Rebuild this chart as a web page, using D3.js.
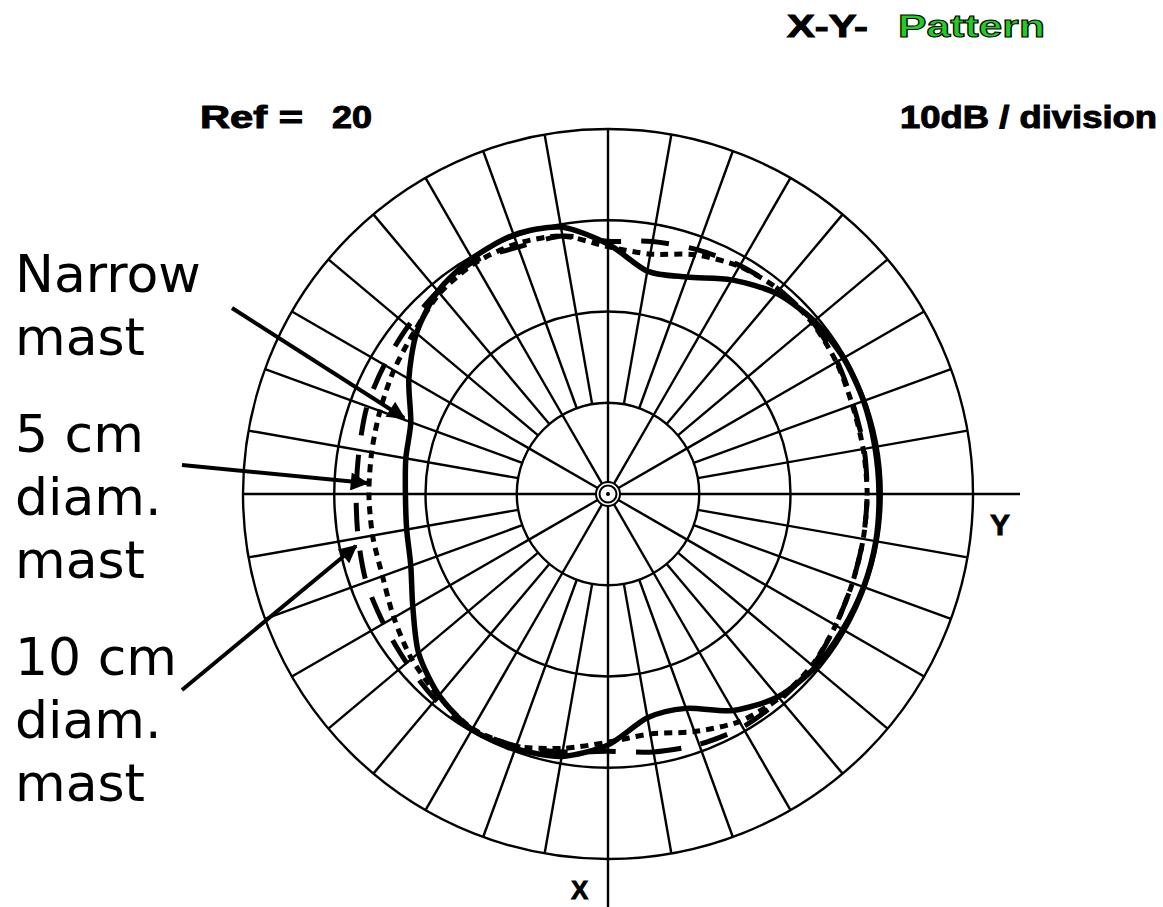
<!DOCTYPE html>
<html>
<head>
<meta charset="utf-8">
<script src="https://cdnjs.cloudflare.com/ajax/libs/d3/7.8.5/d3.min.js"></script>
<style>
  body { margin: 0; background: #ffffff; }
  .chart svg { display: block; }
</style>
</head>
<body>
<div class="chart"></div>
<script>
// azimuth in degrees, measured from the X axis (down) towards the Y axis (right)
var angles = [0, 10, 20, 30, 40, 50, 60, 70, 80, 90, 100, 110, 120, 130, 140, 150, 160, 170,
  180, 190, 200, 210, 220, 230, 240, 250, 260, 270, 280, 290, 300, 310, 320, 330, 340, 350];

// pattern levels in dB for each angle
var narrowMast = [7.5, 4.9, 5.0, 7.4, 9.0, 9.6, 9.7, 9.8, 9.8, 9.7, 9.7, 9.8, 9.8, 9.5, 8.7, 7.1, 5.3, 4.8,
  7.4, 9.7, 10.2, 9.8, 9.0, 7.4, 5.2, 3.0, 2.5, 2.2, 2.4, 3.0, 4.7, 7.1, 8.8, 9.8, 9.7, 9.2];
var mast5cm = [7.2, 6.7, 7.7, 8.8, 9.2, 9.2, 8.8, 8.5, 8.4, 8.4, 8.4, 8.5, 8.9, 9.2, 9.2, 8.8, 7.9, 6.7,
  7.1, 8.7, 9.2, 9.2, 8.7, 7.7, 7.1, 6.6, 6.3, 6.2, 6.2, 6.3, 7.1, 8.1, 8.9, 9.7, 9.4, 8.3];
var mast10cm = [8.2, 8.7, 9.2, 9.5, 9.4, 9.3, 8.8, 8.5, 8.4, 8.4, 8.5, 8.6, 9.0, 9.3, 9.2, 8.9, 8.5, 8.1,
  7.7, 8.7, 8.8, 9.4, 9.0, 8.6, 8.3, 8.1, 7.7, 7.6, 7.8, 8.2, 8.4, 8.8, 9.4, 9.8, 9.4, 8.7];

// grid: ring levels (10 dB / division, Ref = 20 at the outer ring)
var ringLevels = [-10, 0, 10, 20];
var spokeFine = [10, 20, 30, 40, 50, 60, 70, 80, 100, 110, 120, 130, 140, 150, 160, 170,
  190, 200, 210, 220, 230, 240, 250, 260, 280, 290, 300, 310, 320, 330, 340, 350];
var spokeCoarse = [30, 60, 120, 150, 210, 240, 300, 330];

var seriesNames = ["Narrow mast", "5 cm diam. mast", "10 cm diam. mast"];
var labelLines = [["Narrow", "mast"], ["5 cm", "diam.", "mast"], ["10 cm", "diam.", "mast"]];

var svgWidth = 1163;
var svgHeight = 907;
var cx = 608;
var cy = 494;

var svg = d3.select(".chart")
  .append("svg")
    .attr("width", svgWidth)
    .attr("height", svgHeight);

// radius scale: center = -20 dB, outer ring = +20 dB
var rScale = d3.scaleLinear().domain([-20, 20]).range([0, 365]);
var rMax = rScale(20);
var rInner = rScale(-10);
var rHub = 12;

var toRad = function(a) { return (180 - a) * Math.PI / 180; };

var chart = svg.append("g")
  .attr("transform", "translate(" + cx + "," + cy + ")");

var grid = chart.append("g")
  .attr("stroke", "#000")
  .attr("stroke-width", 2.4)
  .attr("fill", "none");

// rings
grid.selectAll("circle.ring")
  .data(ringLevels)
  .enter().append("circle")
    .attr("class", "ring")
    .attr("r", function(d) { return rScale(d); });

// spokes every 10 deg outside the first ring
grid.selectAll("line.fine")
  .data(spokeFine)
  .enter().append("line")
    .attr("class", "fine")
    .attr("x1", function(d) { return rInner * Math.sin(toRad(d)); })
    .attr("y1", function(d) { return -rInner * Math.cos(toRad(d)); })
    .attr("x2", function(d) { return rMax * Math.sin(toRad(d)); })
    .attr("y2", function(d) { return -rMax * Math.cos(toRad(d)); });

// spokes every 30 deg inside the first ring
grid.selectAll("line.coarse")
  .data(spokeCoarse)
  .enter().append("line")
    .attr("class", "coarse")
    .attr("x1", function(d) { return rHub * Math.sin(toRad(d)); })
    .attr("y1", function(d) { return -rHub * Math.cos(toRad(d)); })
    .attr("x2", function(d) { return rInner * Math.sin(toRad(d)); })
    .attr("y2", function(d) { return -rInner * Math.cos(toRad(d)); });

// main axes (X down, Y right)
grid.append("line").attr("x1", -rMax).attr("y1", 0).attr("x2", -rHub).attr("y2", 0);
grid.append("line").attr("x1", rHub).attr("y1", 0).attr("x2", 412).attr("y2", 0);
grid.append("line").attr("x1", 0).attr("y1", -rMax).attr("x2", 0).attr("y2", -rHub);
grid.append("line").attr("x1", 0).attr("y1", rHub).attr("x2", 0).attr("y2", svgHeight - cy);

// hub
grid.append("circle").attr("r", rHub).attr("stroke-width", 2);
grid.append("circle").attr("r", 8.5).attr("stroke-width", 2);
chart.append("circle").attr("r", 2).attr("fill", "#000");

// pattern curves
var radial = d3.lineRadial()
  .angle(function(d) { return toRad(d.a); })
  .radius(function(d) { return rScale(d.v); })
  .curve(d3.curveCardinalClosed.tension(0.2));

var series = [
  { name: seriesNames[0], values: narrowMast, dash: null, width: 5.5 },
  { name: seriesNames[1], values: mast5cm, dash: "8,6", width: 5 },
  { name: seriesNames[2], values: mast10cm, dash: "28,20", width: 5 }
];

chart.selectAll("path.pattern")
  .data(series)
  .enter().append("path")
    .attr("class", "pattern")
    .attr("fill", "none")
    .attr("stroke", "#000")
    .attr("stroke-width", function(d) { return d.width; })
    .attr("stroke-dasharray", function(d) { return d.dash; })
    .attr("d", function(d) {
      return radial(angles.map(function(a, i) { return { a: a, v: d.values[i] }; }));
    });

// axis letters
svg.append("text")
  .attr("x", 990).attr("y", 535)
  .attr("font-family", "Liberation Sans, Arial, sans-serif")
  .attr("font-weight", "bold").attr("font-size", 30)
  .attr("stroke", "#000").attr("stroke-width", 0.8)
  .text("Y");
svg.append("text")
  .attr("x", 571).attr("y", 899)
  .attr("font-family", "Liberation Sans, Arial, sans-serif")
  .attr("font-weight", "bold").attr("font-size", 26)
  .attr("stroke", "#000").attr("stroke-width", 0.8)
  .text("X");

// header texts
var header = svg.append("g")
  .attr("font-family", "Liberation Sans, Arial, sans-serif")
  .attr("font-weight", "bold")
  .attr("font-size", 31)
  .attr("stroke", "#000")
  .attr("stroke-width", 1);

header.append("text").attr("x", 787).attr("y", 37)
  .attr("textLength", 81).attr("lengthAdjust", "spacingAndGlyphs")
  .attr("fill", "#000").text("X-Y-");
header.append("text").attr("x", 898).attr("y", 37)
  .attr("textLength", 147).attr("lengthAdjust", "spacingAndGlyphs")
  .attr("fill", "#22cc22").text("Pattern");
header.append("text").attr("x", 200).attr("y", 128)
  .attr("textLength", 103).attr("lengthAdjust", "spacingAndGlyphs")
  .attr("fill", "#000").text("Ref =");
header.append("text").attr("x", 332).attr("y", 128)
  .attr("textLength", 40).attr("lengthAdjust", "spacingAndGlyphs")
  .attr("fill", "#000").text("20");
header.append("text").attr("x", 900).attr("y", 128)
  .attr("textLength", 257).attr("lengthAdjust", "spacingAndGlyphs")
  .attr("fill", "#000").text("10dB / division");

// series labels on the left
var labelTop = [292, 452, 675];
var labels = svg.append("g")
  .attr("font-family", "DejaVu Sans, sans-serif")
  .attr("font-size", 52)
  .attr("fill", "#000");

labelLines.forEach(function(lines, i) {
  var t = labels.append("text").attr("x", 15).attr("y", labelTop[i]);
  lines.forEach(function(s, j) {
    t.append("tspan").attr("x", 15).attr("dy", j === 0 ? 0 : 63).text(s);
  });
});

// arrows from labels to curves
svg.append("defs").append("marker")
  .attr("id", "head")
  .attr("viewBox", "0 0 10 10")
  .attr("refX", 9).attr("refY", 5)
  .attr("markerWidth", 5.5).attr("markerHeight", 4.5)
  .attr("orient", "auto")
  .attr("markerUnits", "strokeWidth")
  .append("path")
    .attr("d", "M0,0 L10,5 L0,10 z")
    .attr("fill", "#000");

var arrows = [
  [232, 308, 404, 418],
  [182, 465, 367, 483],
  [182, 690, 356, 546]
];

svg.selectAll("line.arrow")
  .data(arrows)
  .enter().append("line")
    .attr("class", "arrow")
    .attr("x1", function(d) { return d[0]; })
    .attr("y1", function(d) { return d[1]; })
    .attr("x2", function(d) { return d[2]; })
    .attr("y2", function(d) { return d[3]; })
    .attr("stroke", "#000")
    .attr("stroke-width", 4)
    .attr("marker-end", "url(#head)");
</script>
</body>
</html>
